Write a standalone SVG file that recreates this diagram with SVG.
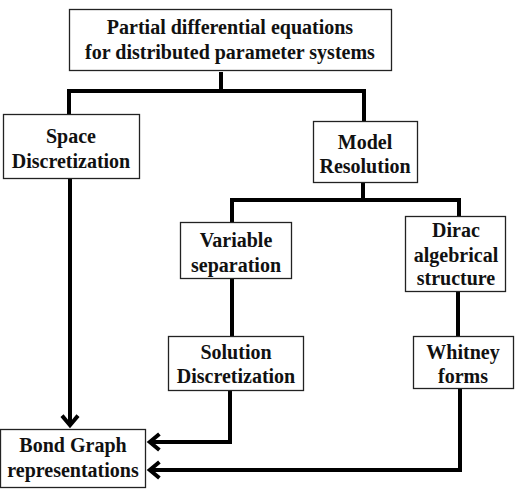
<svg xmlns="http://www.w3.org/2000/svg" width="518" height="494" viewBox="0 0 518 494">
<defs>
<marker id="ah" markerWidth="4" markerHeight="5" refX="3.2" refY="2.5" orient="auto" markerUnits="strokeWidth">
<path d="M0.6,0.5 L3,2.5 L0.6,4.5" fill="none" stroke="#000" stroke-width="1"/>
</marker>
</defs>
<rect width="518" height="494" fill="#fff"/>
<g id="connectors" fill="none" stroke="#000" stroke-width="4">
<path d="M221,72 V91"/>
<path d="M69,114 V91 H364 V121"/>
<path d="M363,183 V200"/>
<path d="M232,222 V200 H459 V216"/>
<path d="M232,279 V336"/>
<path d="M458,292 V336"/>
<path d="M70,179 V426" marker-end="url(#ah)"/>
<path d="M230,391 V442 H149" marker-end="url(#ah)"/>
<path d="M460,389 V470 H149" marker-end="url(#ah)"/>
</g>
<g fill="#fff" stroke="#222" stroke-width="1.3">
<rect id="pde-box" x="69.5" y="9.5" width="322" height="61"/>
<rect id="space-box" x="3.5" y="114.5" width="136" height="64"/>
<rect id="model-box" x="313.5" y="121.5" width="104" height="61"/>
<rect id="variable-box" x="180.5" y="222.5" width="111" height="56"/>
<rect id="dirac-box" x="405.5" y="216.5" width="100" height="75"/>
<rect id="solution-box" x="168.5" y="336.5" width="135" height="54"/>
<rect id="whitney-box" x="413.5" y="336.5" width="100" height="52"/>
<rect id="bond-box" x="0.5" y="429.5" width="145" height="58"/>
</g>
<g fill="#111" text-anchor="middle">
<g id="pde">
<text x="230" y="34" font-family="Liberation Serif" font-weight="bold" font-size="20">Partial differential equations</text>
<text x="230" y="59" font-family="Liberation Serif" font-weight="bold" font-size="20">for distributed parameter systems</text>
</g>
<g id="space">
<text x="71" y="143" font-family="Liberation Serif" font-weight="bold" font-size="20">Space</text>
<text x="71" y="168" font-family="Liberation Serif" font-weight="bold" font-size="20">Discretization</text>
</g>
<g id="model">
<text x="365" y="149" font-family="Liberation Serif" font-weight="bold" font-size="20">Model</text>
<text x="365" y="173" font-family="Liberation Serif" font-weight="bold" font-size="20">Resolution</text>
</g>
<g id="variable">
<text x="236" y="247" font-family="Liberation Serif" font-weight="bold" font-size="20">Variable</text>
<text x="236" y="272" font-family="Liberation Serif" font-weight="bold" font-size="20">separation</text>
</g>
<g id="dirac">
<text x="456" y="237" font-family="Liberation Serif" font-weight="bold" font-size="20">Dirac</text>
<text x="456" y="262" font-family="Liberation Serif" font-weight="bold" font-size="20">algebrical</text>
<text x="456" y="285" font-family="Liberation Serif" font-weight="bold" font-size="20">structure</text>
</g>
<g id="solution">
<text x="236" y="359" font-family="Liberation Serif" font-weight="bold" font-size="20">Solution</text>
<text x="236" y="383" font-family="Liberation Serif" font-weight="bold" font-size="20">Discretization</text>
</g>
<g id="whitney">
<text x="463" y="359" font-family="Liberation Serif" font-weight="bold" font-size="20">Whitney</text>
<text x="463" y="383" font-family="Liberation Serif" font-weight="bold" font-size="20">forms</text>
</g>
<g id="bond">
<text x="73" y="452" font-family="Liberation Serif" font-weight="bold" font-size="20">Bond Graph</text>
<text x="73" y="477" font-family="Liberation Serif" font-weight="bold" font-size="20">representations</text>
</g>
</g>
</svg>
